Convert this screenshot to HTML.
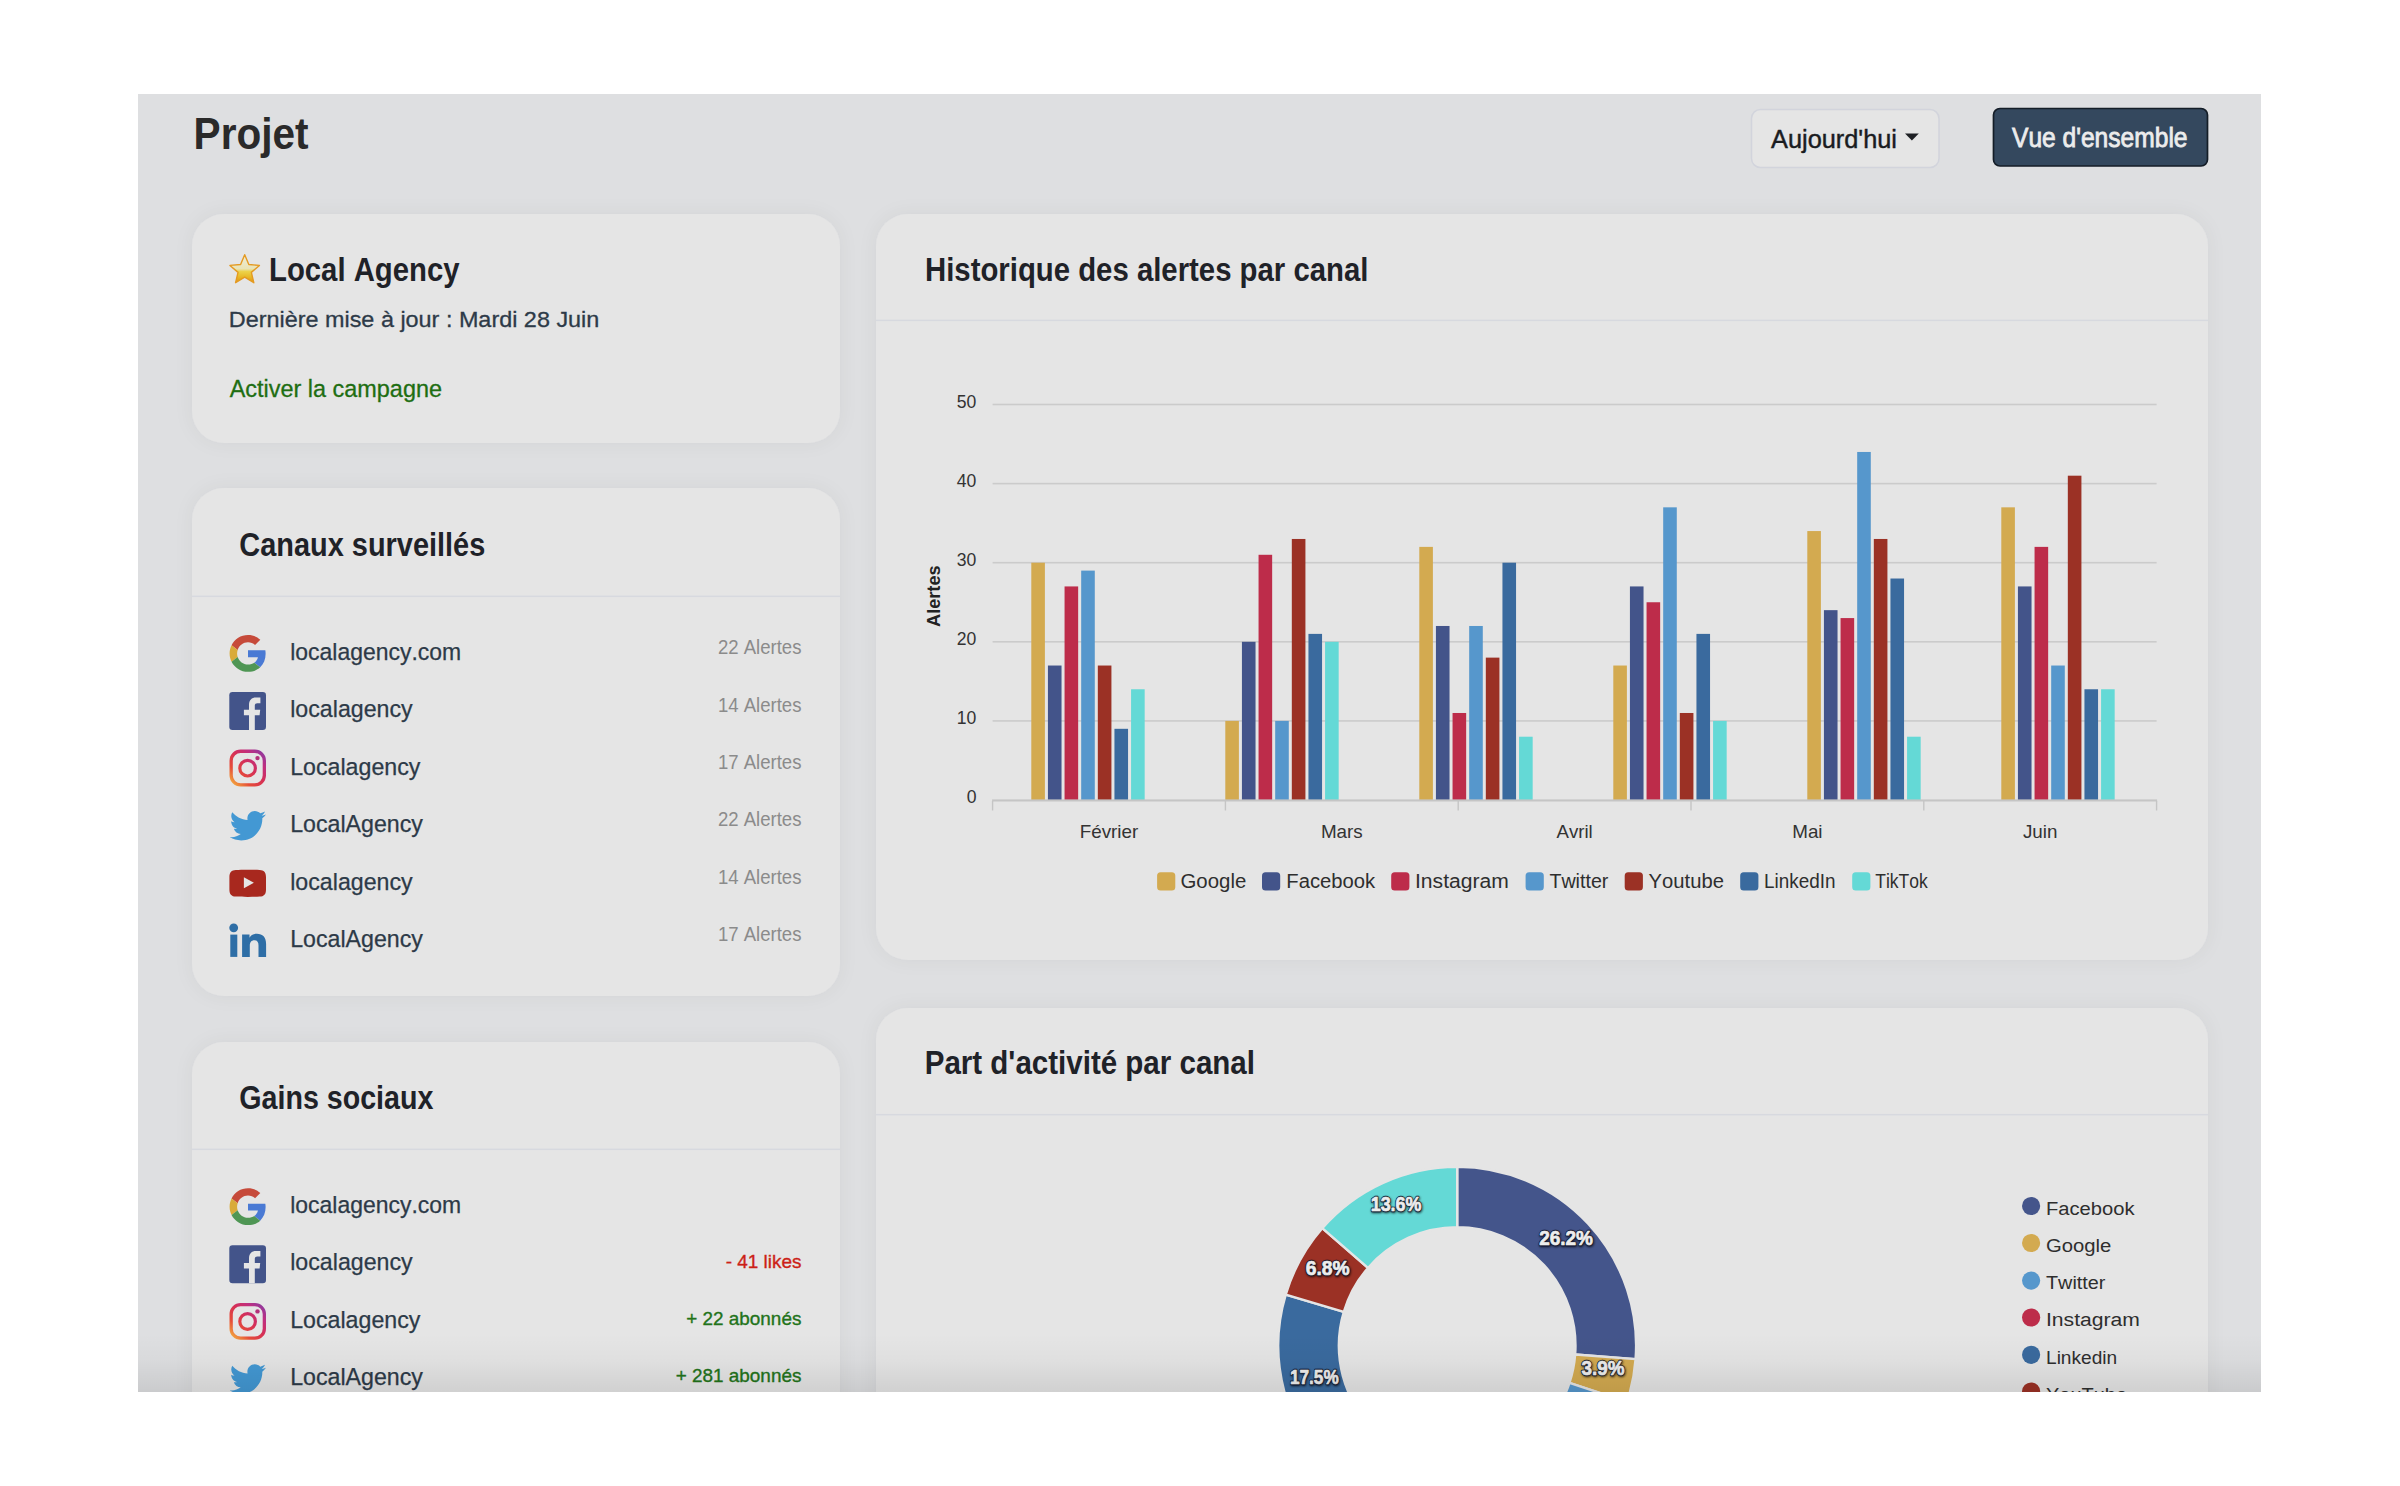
<!DOCTYPE html>
<html lang="fr"><head><meta charset="utf-8"><title>Projet</title>
<style>html,body{margin:0;padding:0;background:#fff;}body{width:2400px;height:1486px;overflow:hidden;}svg{display:block;font-family:"Liberation Sans",Arial,sans-serif;font-kerning:none;}</style></head>
<body><svg width="2400" height="1486" viewBox="0 0 2400 1486">
<defs>
<clipPath id="fr"><rect x="138" y="94" width="2123" height="1298"/></clipPath>
<filter id="sh" x="-10%" y="-10%" width="120%" height="120%"><feDropShadow dx="0" dy="0" stdDeviation="9" flood-color="#000" flood-opacity="0.055"/></filter>
<filter id="tsh" x="-20%" y="-40%" width="140%" height="180%"><feDropShadow dx="0.6" dy="1" stdDeviation="0.9" flood-color="#000" flood-opacity="0.75"/></filter>
<linearGradient id="fade" x1="0" y1="0" x2="0" y2="1"><stop offset="0" stop-color="#000" stop-opacity="0"/><stop offset="0.45" stop-color="#000" stop-opacity="0.025"/><stop offset="1" stop-color="#000" stop-opacity="0.09"/></linearGradient>
<linearGradient id="stg" x1="0" y1="0" x2="0" y2="1"><stop offset="0" stop-color="#f1eed8"/><stop offset="0.5" stop-color="#e9e3b6"/><stop offset="0.6" stop-color="#ecd24a"/><stop offset="0.8" stop-color="#e8b826"/><stop offset="1" stop-color="#de9116"/></linearGradient>
<linearGradient id="igg" gradientUnits="userSpaceOnUse" x1="2" y1="36" x2="35" y2="2"><stop offset="0" stop-color="#f4b640"/><stop offset="0.28" stop-color="#e64c38"/><stop offset="0.55" stop-color="#d52f57"/><stop offset="0.78" stop-color="#bf2f80"/><stop offset="1" stop-color="#8a3aa2"/></linearGradient>
</defs>
<rect width="2400" height="1486" fill="#fff"/>
<rect x="138" y="94" width="2123" height="1298" fill="#dedfe1"/>
<g clip-path="url(#fr)">
<rect x="192" y="214" width="648" height="229" rx="32" fill="#e5e5e5" filter="url(#sh)"/>
<rect x="192" y="488" width="648" height="508" rx="32" fill="#e5e5e5" filter="url(#sh)"/>
<rect x="192" y="1042" width="648" height="458" rx="32" fill="#e5e5e5" filter="url(#sh)"/>
<rect x="876" y="214" width="1332" height="746" rx="32" fill="#e5e5e5" filter="url(#sh)"/>
<rect x="876" y="1008" width="1332" height="592" rx="32" fill="#e5e5e5" filter="url(#sh)"/>
<rect x="192" y="595.55" width="648" height="1.5" fill="#d7d9df"/>
<rect x="192" y="1148.55" width="648" height="1.5" fill="#d7d9df"/>
<rect x="876" y="319.65" width="1332" height="1.5" fill="#d7d9df"/>
<rect x="876" y="1113.95" width="1332" height="1.5" fill="#d7d9df"/>
<text x="193.60" y="149.00" font-size="45.24" font-weight="700" fill="#2a2a2a" textLength="114.96" lengthAdjust="spacingAndGlyphs">Projet</text>
<rect x="1751.5" y="109.5" width="187.5" height="58" rx="9" fill="#e5e5e5" stroke="#d2d4dc" stroke-width="1.5"/>
<text x="1771.00" y="147.50" font-size="26.47" fill="#1a1c1f" textLength="126.00" lengthAdjust="spacingAndGlyphs" stroke="#1a1c1f" stroke-width="0.45">Aujourd'hui</text>
<path d="M1905 133.6 L1918.8 133.6 L1911.9 140.6 Z" fill="#1e2024"/>
<rect x="1993.5" y="108.5" width="214" height="57.5" rx="6.5" fill="#34485e" stroke="#141d27" stroke-width="1.7"/>
<text x="2012.00" y="146.80" font-size="27.35" fill="#ececec" textLength="175.52" lengthAdjust="spacingAndGlyphs" stroke="#ececec" stroke-width="0.8">Vue d'ensemble</text>
<polygon points="244.70,254.70 248.81,264.54 259.44,265.41 251.36,272.36 253.81,282.74 244.70,277.20 235.59,282.74 238.04,272.36 229.96,265.41 240.59,264.54" fill="url(#stg)" stroke="#e49a22" stroke-width="1.4" stroke-linejoin="round"/>
<text x="269.00" y="280.70" font-size="33.02" font-weight="700" fill="#1f2228" textLength="190.60" lengthAdjust="spacingAndGlyphs">Local Agency</text>
<text x="228.80" y="326.70" font-size="22.40" fill="#2d3a48" textLength="370.51" lengthAdjust="spacingAndGlyphs" stroke="#2d3a48" stroke-width="0.3">Dernière mise à jour : Mardi 28 Juin</text>
<text x="229.70" y="396.70" font-size="23.56" fill="#1e6e12" textLength="212.31" lengthAdjust="spacingAndGlyphs" stroke="#1e6e12" stroke-width="0.3">Activer la campagne</text>
<text x="239.30" y="556.00" font-size="33.02" font-weight="700" fill="#1f2228" textLength="245.99" lengthAdjust="spacingAndGlyphs">Canaux surveillés</text>
<text x="239.30" y="1109.30" font-size="32.44" font-weight="700" fill="#1f2228" textLength="194.03" lengthAdjust="spacingAndGlyphs">Gains sociaux</text>
<text x="925.00" y="281.00" font-size="32.87" font-weight="700" fill="#1f2228" textLength="443.41" lengthAdjust="spacingAndGlyphs">Historique des alertes par canal</text>
<text x="924.70" y="1074.20" font-size="32.29" font-weight="700" fill="#1f2228" textLength="330.30" lengthAdjust="spacingAndGlyphs">Part d'activité par canal</text>
<g transform="translate(229.30,635.00)"><g transform="translate(0.3,0) scale(0.7667)"><path fill="#c64a3a" d="M24 9.5c3.54 0 6.71 1.22 9.21 3.6l6.85-6.85C35.9 2.38 30.47 0 24 0 14.62 0 6.51 5.38 2.56 13.22l7.98 6.19C12.43 13.72 17.74 9.5 24 9.5z"/><path fill="#4a7ad4" d="M46.98 24.55c0-1.57-.15-3.09-.38-4.55H24v9.02h12.94c-.58 2.96-2.26 5.48-4.78 7.18l7.73 6c4.51-4.18 7.09-10.36 7.09-17.65z"/><path fill="#d9ab3a" d="M10.53 28.59c-.48-1.450-.76-2.99-.76-4.59s.27-3.14.76-4.59l-7.98-6.19C.92 16.46 0 20.12 0 24c0 3.880.92 7.54 2.56 10.78l7.970-6.19z"/><path fill="#4f9654" d="M24 48c6.48 0 11.93-2.13 15.89-5.81l-7.73-6c-2.15 1.45-4.92 2.3-8.16 2.3-6.26 0-11.57-4.22-13.47-9.91l-7.98 6.19C6.51 42.62 14.62 48 24 48z"/></g></g>
<text x="290.20" y="660.00" font-size="23.72" fill="#2d3a48" textLength="170.98" lengthAdjust="spacingAndGlyphs" stroke="#2d3a48" stroke-width="0.25">localagency.com</text>
<text x="717.90" y="654.20" font-size="19.35" fill="#8b8b8b" textLength="83.60" lengthAdjust="spacingAndGlyphs">22 Alertes</text>
<g transform="translate(229.30,692.40)"><rect x="0" y="-0.4" width="36.7" height="37.9" rx="3.2" fill="#43548a"/><path fill="#e5e5e5" d="M19.7 37.5 V22.8 H14.6 V17.3 H19.7 V12.5 C19.7 7.9 22.4 5.2 26.6 5.2 H31.1 V10.8 H28.1 C26.4 10.8 25.5 11.6 25.5 13.3 V17.3 H30.9 L30.3 22.8 H25.5 V37.5 Z"/></g>
<text x="290.20" y="717.40" font-size="23.72" fill="#2d3a48" textLength="122.46" lengthAdjust="spacingAndGlyphs" stroke="#2d3a48" stroke-width="0.25">localagency</text>
<text x="717.90" y="711.60" font-size="19.35" fill="#8b8b8b" textLength="83.60" lengthAdjust="spacingAndGlyphs">14 Alertes</text>
<g transform="translate(229.30,749.80)"><rect x="1.85" y="1.45" width="33.2" height="33.6" rx="9.5" fill="none" stroke="url(#igg)" stroke-width="3.3"/><circle cx="18.3" cy="18.4" r="7.8" fill="none" stroke="url(#igg)" stroke-width="3.2"/><circle cx="28.2" cy="8.3" r="2.2" fill="#b4307a"/></g>
<text x="290.20" y="774.80" font-size="23.72" fill="#2d3a48" textLength="130.20" lengthAdjust="spacingAndGlyphs" stroke="#2d3a48" stroke-width="0.25">Localagency</text>
<text x="717.90" y="769.00" font-size="19.35" fill="#8b8b8b" textLength="83.60" lengthAdjust="spacingAndGlyphs">17 Alertes</text>
<g transform="translate(229.30,807.20)"><g transform="translate(0.5,0.39) scale(1.5083)"><path fill="#4398d3" d="M23.954 4.569c-.885.389-1.83.654-2.825.775 1.014-.611 1.794-1.574 2.163-2.723-.951.555-2.005.959-3.127 1.184-.896-.959-2.173-1.559-3.591-1.559-2.717 0-4.92 2.203-4.92 4.917 0 .39.045.765.127 1.124C7.691 8.094 4.066 6.13 1.64 3.161c-.427.722-.666 1.561-.666 2.475 0 1.71.87 3.213 2.188 4.096-.807-.026-1.566-.248-2.228-.616v.061c0 2.385 1.693 4.374 3.946 4.827-.413.111-.849.171-1.296.171-.314 0-.615-.03-.916-.086.631 1.953 2.445 3.377 4.604 3.417-1.68 1.319-3.809 2.105-6.102 2.105-.39 0-.779-.023-1.17-.067 2.189 1.394 4.768 2.209 7.557 2.209 9.054 0 13.999-7.496 13.999-13.986 0-.209 0-.42-.015-.63.961-.689 1.8-1.56 2.46-2.548l-.047-.02z"/></g></g>
<text x="290.20" y="832.20" font-size="23.72" fill="#2d3a48" textLength="132.77" lengthAdjust="spacingAndGlyphs" stroke="#2d3a48" stroke-width="0.25">LocalAgency</text>
<text x="717.90" y="826.40" font-size="19.35" fill="#8b8b8b" textLength="83.60" lengthAdjust="spacingAndGlyphs">22 Alertes</text>
<g transform="translate(229.30,864.60)"><path fill="#a8281e" d="M6.5 5.4 C12 5 25 5 30.4 5.4 C34.6 5.7 36.7 7.6 36.7 12.6 V24.8 C36.7 29.8 34.6 31.7 30.4 32 C25 32.4 12 32.4 6.5 32 C2.3 31.7 0.1 29.8 0.1 24.8 V12.6 C0.1 7.6 2.3 5.7 6.5 5.4 Z"/><path fill="#e5e5e5" d="M14.6 12.6 L24.6 18.2 L14.6 23.7 Z"/></g>
<text x="290.20" y="889.60" font-size="23.72" fill="#2d3a48" textLength="122.46" lengthAdjust="spacingAndGlyphs" stroke="#2d3a48" stroke-width="0.25">localagency</text>
<text x="717.90" y="883.80" font-size="19.35" fill="#8b8b8b" textLength="83.60" lengthAdjust="spacingAndGlyphs">14 Alertes</text>
<g transform="translate(229.30,922.00)"><circle cx="4.4" cy="5.8" r="4.4" fill="#2e6ea6"/><rect x="1" y="12.6" width="7" height="22.3" fill="#2e6ea6"/><path fill="#2e6ea6" d="M12.8 12.6 H20.2 V15.8 C21.4 13.6 23.8 11.8 27.6 11.8 C33.4 11.8 36.8 15.2 36.8 22 V34.9 H29.2 V23.3 C29.2 20.2 28.1 18.2 25.1 18.2 C22 18.2 20.5 20.4 20.5 23.6 V34.9 H12.8 Z"/></g>
<text x="290.20" y="947.00" font-size="23.72" fill="#2d3a48" textLength="132.77" lengthAdjust="spacingAndGlyphs" stroke="#2d3a48" stroke-width="0.25">LocalAgency</text>
<text x="717.90" y="941.20" font-size="19.35" fill="#8b8b8b" textLength="83.60" lengthAdjust="spacingAndGlyphs">17 Alertes</text>
<g transform="translate(229.30,1188.30)"><g transform="translate(0.3,0) scale(0.7667)"><path fill="#c64a3a" d="M24 9.5c3.54 0 6.71 1.22 9.21 3.6l6.85-6.85C35.9 2.38 30.47 0 24 0 14.62 0 6.51 5.38 2.56 13.22l7.98 6.19C12.43 13.72 17.74 9.5 24 9.5z"/><path fill="#4a7ad4" d="M46.98 24.55c0-1.57-.15-3.09-.38-4.55H24v9.02h12.94c-.58 2.96-2.26 5.48-4.78 7.18l7.73 6c4.51-4.18 7.09-10.36 7.09-17.65z"/><path fill="#d9ab3a" d="M10.53 28.59c-.48-1.450-.76-2.99-.76-4.59s.27-3.14.76-4.59l-7.98-6.19C.92 16.46 0 20.12 0 24c0 3.880.92 7.54 2.56 10.78l7.970-6.19z"/><path fill="#4f9654" d="M24 48c6.48 0 11.93-2.13 15.89-5.81l-7.73-6c-2.15 1.45-4.92 2.3-8.16 2.3-6.26 0-11.57-4.22-13.47-9.91l-7.98 6.19C6.51 42.62 14.62 48 24 48z"/></g></g>
<text x="290.20" y="1213.00" font-size="23.72" fill="#2d3a48" textLength="170.98" lengthAdjust="spacingAndGlyphs" stroke="#2d3a48" stroke-width="0.25">localagency.com</text>
<g transform="translate(229.30,1245.70)"><rect x="0" y="-0.4" width="36.7" height="37.9" rx="3.2" fill="#43548a"/><path fill="#e5e5e5" d="M19.7 37.5 V22.8 H14.6 V17.3 H19.7 V12.5 C19.7 7.9 22.4 5.2 26.6 5.2 H31.1 V10.8 H28.1 C26.4 10.8 25.5 11.6 25.5 13.3 V17.3 H30.9 L30.3 22.8 H25.5 V37.5 Z"/></g>
<text x="290.20" y="1270.40" font-size="23.72" fill="#2d3a48" textLength="122.46" lengthAdjust="spacingAndGlyphs" stroke="#2d3a48" stroke-width="0.25">localagency</text>
<text x="725.69" y="1267.60" font-size="18.91" fill="#cc1f17" textLength="75.70" lengthAdjust="spacingAndGlyphs" stroke="#cc1f17" stroke-width="0.35">- 41 likes</text>
<g transform="translate(229.30,1303.10)"><rect x="1.85" y="1.45" width="33.2" height="33.6" rx="9.5" fill="none" stroke="url(#igg)" stroke-width="3.3"/><circle cx="18.3" cy="18.4" r="7.8" fill="none" stroke="url(#igg)" stroke-width="3.2"/><circle cx="28.2" cy="8.3" r="2.2" fill="#b4307a"/></g>
<text x="290.20" y="1327.80" font-size="23.72" fill="#2d3a48" textLength="130.20" lengthAdjust="spacingAndGlyphs" stroke="#2d3a48" stroke-width="0.25">Localagency</text>
<text x="686.20" y="1325.00" font-size="18.91" fill="#22731a" textLength="115.18" lengthAdjust="spacingAndGlyphs" stroke="#22731a" stroke-width="0.35">+ 22 abonnés</text>
<g transform="translate(229.30,1360.50)"><g transform="translate(0.5,0.39) scale(1.5083)"><path fill="#4398d3" d="M23.954 4.569c-.885.389-1.83.654-2.825.775 1.014-.611 1.794-1.574 2.163-2.723-.951.555-2.005.959-3.127 1.184-.896-.959-2.173-1.559-3.591-1.559-2.717 0-4.92 2.203-4.92 4.917 0 .39.045.765.127 1.124C7.691 8.094 4.066 6.13 1.64 3.161c-.427.722-.666 1.561-.666 2.475 0 1.71.87 3.213 2.188 4.096-.807-.026-1.566-.248-2.228-.616v.061c0 2.385 1.693 4.374 3.946 4.827-.413.111-.849.171-1.296.171-.314 0-.615-.03-.916-.086.631 1.953 2.445 3.377 4.604 3.417-1.68 1.319-3.809 2.105-6.102 2.105-.39 0-.779-.023-1.17-.067 2.189 1.394 4.768 2.209 7.557 2.209 9.054 0 13.999-7.496 13.999-13.986 0-.209 0-.42-.015-.63.961-.689 1.8-1.56 2.46-2.548l-.047-.02z"/></g></g>
<text x="290.20" y="1385.20" font-size="23.72" fill="#2d3a48" textLength="132.77" lengthAdjust="spacingAndGlyphs" stroke="#2d3a48" stroke-width="0.25">LocalAgency</text>
<text x="675.70" y="1382.40" font-size="18.91" fill="#22731a" textLength="125.70" lengthAdjust="spacingAndGlyphs" stroke="#22731a" stroke-width="0.35">+ 281 abonnés</text>
<rect x="992.6" y="720.10" width="1164.0" height="1.6" fill="#cbcbcb"/>
<rect x="992.6" y="641.00" width="1164.0" height="1.6" fill="#cbcbcb"/>
<rect x="992.6" y="561.90" width="1164.0" height="1.6" fill="#cbcbcb"/>
<rect x="992.6" y="482.80" width="1164.0" height="1.6" fill="#cbcbcb"/>
<rect x="992.6" y="403.70" width="1164.0" height="1.6" fill="#cbcbcb"/>
<text x="966.64" y="803.00" font-size="18.91" fill="#333333" textLength="9.78" lengthAdjust="spacingAndGlyphs">0</text>
<text x="956.84" y="723.90" font-size="18.91" fill="#333333" textLength="19.56" lengthAdjust="spacingAndGlyphs">10</text>
<text x="956.84" y="644.80" font-size="18.91" fill="#333333" textLength="19.56" lengthAdjust="spacingAndGlyphs">20</text>
<text x="956.84" y="565.70" font-size="18.91" fill="#333333" textLength="19.56" lengthAdjust="spacingAndGlyphs">30</text>
<text x="956.84" y="486.60" font-size="18.91" fill="#333333" textLength="19.56" lengthAdjust="spacingAndGlyphs">40</text>
<text x="956.84" y="407.50" font-size="18.91" fill="#333333" textLength="19.56" lengthAdjust="spacingAndGlyphs">50</text>
<rect x="1031.30" y="562.70" width="13.6" height="237.30" fill="#d3aa50"/>
<rect x="1047.93" y="665.53" width="13.6" height="134.47" fill="#43548a"/>
<rect x="1064.56" y="586.43" width="13.6" height="213.57" fill="#bd2c4a"/>
<rect x="1081.19" y="570.61" width="13.6" height="229.39" fill="#5697cc"/>
<rect x="1097.82" y="665.53" width="13.6" height="134.47" fill="#9b3125"/>
<rect x="1114.45" y="728.81" width="13.6" height="71.19" fill="#3a6a9e"/>
<rect x="1131.08" y="689.26" width="13.6" height="110.74" fill="#64d9d6"/>
<rect x="1225.30" y="720.90" width="13.6" height="79.10" fill="#d3aa50"/>
<rect x="1241.93" y="641.80" width="13.6" height="158.20" fill="#43548a"/>
<rect x="1258.56" y="554.79" width="13.6" height="245.21" fill="#bd2c4a"/>
<rect x="1275.19" y="720.90" width="13.6" height="79.10" fill="#5697cc"/>
<rect x="1291.82" y="538.97" width="13.6" height="261.03" fill="#9b3125"/>
<rect x="1308.45" y="633.89" width="13.6" height="166.11" fill="#3a6a9e"/>
<rect x="1325.08" y="641.80" width="13.6" height="158.20" fill="#64d9d6"/>
<rect x="1419.30" y="546.88" width="13.6" height="253.12" fill="#d3aa50"/>
<rect x="1435.93" y="625.98" width="13.6" height="174.02" fill="#43548a"/>
<rect x="1452.56" y="712.99" width="13.6" height="87.01" fill="#bd2c4a"/>
<rect x="1469.19" y="625.98" width="13.6" height="174.02" fill="#5697cc"/>
<rect x="1485.82" y="657.62" width="13.6" height="142.38" fill="#9b3125"/>
<rect x="1502.45" y="562.70" width="13.6" height="237.30" fill="#3a6a9e"/>
<rect x="1519.08" y="736.72" width="13.6" height="63.28" fill="#64d9d6"/>
<rect x="1613.30" y="665.53" width="13.6" height="134.47" fill="#d3aa50"/>
<rect x="1629.93" y="586.43" width="13.6" height="213.57" fill="#43548a"/>
<rect x="1646.56" y="602.25" width="13.6" height="197.75" fill="#bd2c4a"/>
<rect x="1663.19" y="507.33" width="13.6" height="292.67" fill="#5697cc"/>
<rect x="1679.82" y="712.99" width="13.6" height="87.01" fill="#9b3125"/>
<rect x="1696.45" y="633.89" width="13.6" height="166.11" fill="#3a6a9e"/>
<rect x="1713.08" y="720.90" width="13.6" height="79.10" fill="#64d9d6"/>
<rect x="1807.30" y="531.06" width="13.6" height="268.94" fill="#d3aa50"/>
<rect x="1823.93" y="610.16" width="13.6" height="189.84" fill="#43548a"/>
<rect x="1840.56" y="618.07" width="13.6" height="181.93" fill="#bd2c4a"/>
<rect x="1857.19" y="451.96" width="13.6" height="348.04" fill="#5697cc"/>
<rect x="1873.82" y="538.97" width="13.6" height="261.03" fill="#9b3125"/>
<rect x="1890.45" y="578.52" width="13.6" height="221.48" fill="#3a6a9e"/>
<rect x="1907.08" y="736.72" width="13.6" height="63.28" fill="#64d9d6"/>
<rect x="2001.30" y="507.33" width="13.6" height="292.67" fill="#d3aa50"/>
<rect x="2017.93" y="586.43" width="13.6" height="213.57" fill="#43548a"/>
<rect x="2034.56" y="546.88" width="13.6" height="253.12" fill="#bd2c4a"/>
<rect x="2051.19" y="665.53" width="13.6" height="134.47" fill="#5697cc"/>
<rect x="2067.82" y="475.69" width="13.6" height="324.31" fill="#9b3125"/>
<rect x="2084.45" y="689.26" width="13.6" height="110.74" fill="#3a6a9e"/>
<rect x="2101.08" y="689.26" width="13.6" height="110.74" fill="#64d9d6"/>
<rect x="992.1" y="799.4" width="1165.0" height="2.1" fill="#c5c5c5"/>
<rect x="991.90" y="801" width="1.4" height="9.5" fill="#c5c5c5"/>
<rect x="1224.70" y="801" width="1.4" height="9.5" fill="#c5c5c5"/>
<rect x="1457.50" y="801" width="1.4" height="9.5" fill="#c5c5c5"/>
<rect x="1690.30" y="801" width="1.4" height="9.5" fill="#c5c5c5"/>
<rect x="1923.10" y="801" width="1.4" height="9.5" fill="#c5c5c5"/>
<rect x="2155.90" y="801" width="1.4" height="9.5" fill="#c5c5c5"/>
<text x="1079.70" y="838.30" font-size="19.05" fill="#333333" textLength="58.58" lengthAdjust="spacingAndGlyphs">Février</text>
<text x="1320.88" y="838.30" font-size="19.05" fill="#333333" textLength="41.84" lengthAdjust="spacingAndGlyphs">Mars</text>
<text x="1556.46" y="838.30" font-size="19.05" fill="#333333" textLength="36.27" lengthAdjust="spacingAndGlyphs">Avril</text>
<text x="1792.22" y="838.30" font-size="19.05" fill="#333333" textLength="30.34" lengthAdjust="spacingAndGlyphs">Mai</text>
<text x="2022.93" y="838.30" font-size="19.05" fill="#333333" textLength="34.54" lengthAdjust="spacingAndGlyphs">Juin</text>
<text transform="translate(939.7,0) rotate(-90)" x="-626.95" y="0" font-size="18.47" font-weight="700" fill="#222" textLength="61.51" lengthAdjust="spacingAndGlyphs">Alertes</text>
<rect x="1157.1" y="872.2" width="18.2" height="18.4" rx="3.5" fill="#d3aa50"/>
<text x="1180.50" y="888.20" font-size="19.78" fill="#2e2e2e" textLength="65.79" lengthAdjust="spacingAndGlyphs">Google</text>
<rect x="1262" y="872.2" width="18.2" height="18.4" rx="3.5" fill="#43548a"/>
<text x="1286.30" y="888.20" font-size="19.78" fill="#2e2e2e" textLength="88.93" lengthAdjust="spacingAndGlyphs">Facebook</text>
<rect x="1391.2" y="872.2" width="18.2" height="18.4" rx="3.5" fill="#bd2c4a"/>
<text x="1415.00" y="888.20" font-size="19.78" fill="#2e2e2e" textLength="93.78" lengthAdjust="spacingAndGlyphs">Instagram</text>
<rect x="1525.6" y="872.2" width="18.2" height="18.4" rx="3.5" fill="#5697cc"/>
<text x="1549.40" y="888.20" font-size="19.78" fill="#2e2e2e" textLength="59.00" lengthAdjust="spacingAndGlyphs">Twitter</text>
<rect x="1624.7" y="872.2" width="18.2" height="18.4" rx="3.5" fill="#9b3125"/>
<text x="1648.60" y="888.20" font-size="19.78" fill="#2e2e2e" textLength="75.28" lengthAdjust="spacingAndGlyphs">Youtube</text>
<rect x="1740.2" y="872.2" width="18.2" height="18.4" rx="3.5" fill="#3a6a9e"/>
<text x="1764.10" y="888.20" font-size="19.78" fill="#2e2e2e" textLength="71.42" lengthAdjust="spacingAndGlyphs">LinkedIn</text>
<rect x="1852.2" y="872.2" width="18.2" height="18.4" rx="3.5" fill="#64d9d6"/>
<text x="1875.30" y="888.20" font-size="19.78" fill="#2e2e2e" textLength="52.45" lengthAdjust="spacingAndGlyphs">TikTok</text>
<path d="M1457.20 1166.70 A178.9 178.9 0 0 1 1635.59 1359.08 L1575.16 1354.51 A118.3 118.3 0 0 0 1457.20 1227.30 Z" fill="#44558b" stroke="#e5e5e5" stroke-width="2.4" stroke-linejoin="round"/>
<path d="M1635.59 1359.08 A178.9 178.9 0 0 1 1626.99 1401.95 L1569.48 1382.86 A118.3 118.3 0 0 0 1575.16 1354.51 Z" fill="#d3aa50" stroke="#e5e5e5" stroke-width="2.4" stroke-linejoin="round"/>
<path d="M1626.99 1401.95 A178.9 178.9 0 0 1 1500.60 1519.16 L1485.90 1460.37 A118.3 118.3 0 0 0 1569.48 1382.86 Z" fill="#5697cc" stroke="#e5e5e5" stroke-width="2.4" stroke-linejoin="round"/>
<path d="M1500.60 1519.16 A178.9 178.9 0 0 1 1333.92 1475.24 L1375.68 1431.33 A118.3 118.3 0 0 0 1485.90 1460.37 Z" fill="#bd2c4a" stroke="#e5e5e5" stroke-width="2.4" stroke-linejoin="round"/>
<path d="M1333.92 1475.24 A178.9 178.9 0 0 1 1285.72 1294.61 L1343.81 1311.88 A118.3 118.3 0 0 0 1375.68 1431.33 Z" fill="#3a6a9e" stroke="#e5e5e5" stroke-width="2.4" stroke-linejoin="round"/>
<path d="M1285.72 1294.61 A178.9 178.9 0 0 1 1322.26 1228.14 L1367.97 1267.93 A118.3 118.3 0 0 0 1343.81 1311.88 Z" fill="#9b3125" stroke="#e5e5e5" stroke-width="2.4" stroke-linejoin="round"/>
<path d="M1322.26 1228.14 A178.9 178.9 0 0 1 1457.20 1166.70 L1457.20 1227.30 A118.3 118.3 0 0 0 1367.97 1267.93 Z" fill="#64d9d6" stroke="#e5e5e5" stroke-width="2.4" stroke-linejoin="round"/>
<text x="1539.20" y="1245.00" font-size="21.09" font-weight="700" fill="#141a2a" textLength="53.81" lengthAdjust="spacingAndGlyphs" filter="url(#tsh)" stroke-opacity="0.85" stroke-linejoin="round" stroke="#141a2a" stroke-width="2.6">26.2%</text>
<text x="1539.20" y="1245.00" font-size="21.09" font-weight="700" fill="#ededed" textLength="53.81" lengthAdjust="spacingAndGlyphs" stroke-linejoin="round" stroke="#ededed" stroke-width="0.7">26.2%</text>
<text x="1581.60" y="1375.40" font-size="21.09" font-weight="700" fill="#141a2a" textLength="43.09" lengthAdjust="spacingAndGlyphs" filter="url(#tsh)" stroke-opacity="0.85" stroke-linejoin="round" stroke="#141a2a" stroke-width="2.6">3.9%</text>
<text x="1581.60" y="1375.40" font-size="21.09" font-weight="700" fill="#ededed" textLength="43.09" lengthAdjust="spacingAndGlyphs" stroke-linejoin="round" stroke="#ededed" stroke-width="0.7">3.9%</text>
<text x="1290.00" y="1383.80" font-size="21.09" font-weight="700" fill="#141a2a" textLength="48.71" lengthAdjust="spacingAndGlyphs" filter="url(#tsh)" stroke-opacity="0.85" stroke-linejoin="round" stroke="#141a2a" stroke-width="2.6">17.5%</text>
<text x="1290.00" y="1383.80" font-size="21.09" font-weight="700" fill="#ededed" textLength="48.71" lengthAdjust="spacingAndGlyphs" stroke-linejoin="round" stroke="#ededed" stroke-width="0.7">17.5%</text>
<text x="1305.80" y="1274.50" font-size="21.09" font-weight="700" fill="#141a2a" textLength="43.89" lengthAdjust="spacingAndGlyphs" filter="url(#tsh)" stroke-opacity="0.85" stroke-linejoin="round" stroke="#141a2a" stroke-width="2.6">6.8%</text>
<text x="1305.80" y="1274.50" font-size="21.09" font-weight="700" fill="#ededed" textLength="43.89" lengthAdjust="spacingAndGlyphs" stroke-linejoin="round" stroke="#ededed" stroke-width="0.7">6.8%</text>
<text x="1370.70" y="1210.60" font-size="21.09" font-weight="700" fill="#141a2a" textLength="50.81" lengthAdjust="spacingAndGlyphs" filter="url(#tsh)" stroke-opacity="0.85" stroke-linejoin="round" stroke="#141a2a" stroke-width="2.6">13.6%</text>
<text x="1370.70" y="1210.60" font-size="21.09" font-weight="700" fill="#ededed" textLength="50.81" lengthAdjust="spacingAndGlyphs" stroke-linejoin="round" stroke="#ededed" stroke-width="0.7">13.6%</text>
<circle cx="2031.1" cy="1206" r="9.1" fill="#44558b"/>
<text x="2046.00" y="1215.20" font-size="19.20" fill="#2e2e2e" textLength="88.53" lengthAdjust="spacingAndGlyphs">Facebook</text>
<circle cx="2031.1" cy="1243" r="9.1" fill="#d3aa50"/>
<text x="2046.00" y="1251.60" font-size="19.20" fill="#2e2e2e" textLength="65.39" lengthAdjust="spacingAndGlyphs">Google</text>
<circle cx="2031.1" cy="1280.6" r="9.1" fill="#5697cc"/>
<text x="2046.00" y="1288.80" font-size="19.20" fill="#2e2e2e" textLength="59.40" lengthAdjust="spacingAndGlyphs">Twitter</text>
<circle cx="2031.1" cy="1317.5" r="9.1" fill="#bd2c4a"/>
<text x="2046.00" y="1326.20" font-size="19.20" fill="#2e2e2e" textLength="93.98" lengthAdjust="spacingAndGlyphs">Instagram</text>
<circle cx="2031.1" cy="1354.8" r="9.1" fill="#3a6a9e"/>
<text x="2046.00" y="1364.10" font-size="19.20" fill="#2e2e2e" textLength="71.20" lengthAdjust="spacingAndGlyphs">Linkedin</text>
<circle cx="2031.1" cy="1391.5" r="9.1" fill="#9b3125"/>
<text x="2046.00" y="1401.40" font-size="19.20" fill="#2e2e2e" textLength="81.00" lengthAdjust="spacingAndGlyphs">YouTube</text>
<rect x="138" y="1334" width="2123" height="58" fill="url(#fade)"/>
</g>
</svg></body></html>
